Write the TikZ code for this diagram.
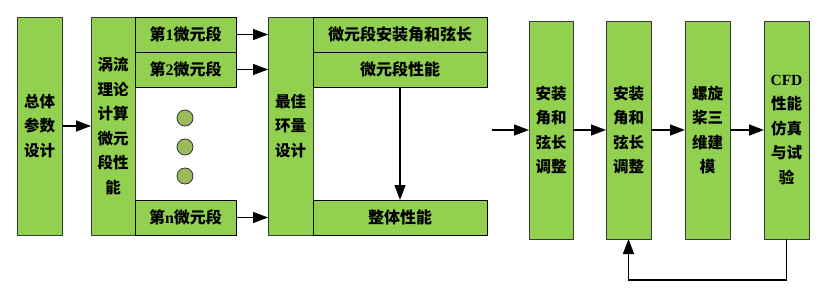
\documentclass[tikz,border=0pt]{standalone}
\usepackage{fontspec}
\setmainfont{Liberation Serif}
\newfontfamily\cjk{Noto Sans CJK SC}
\newfontfamily\lat{Liberation Serif}
\usetikzlibrary{arrows.meta}
\definecolor{boxgreen}{HTML}{92D050}
\definecolor{dotgreen}{HTML}{9BBB59}
\definecolor{edgegray}{HTML}{3A3A3A}
\begin{document}
\begin{tikzpicture}[x=1pt,y=-1pt,
  box/.style={draw=edgegray,line width=0.9pt,fill=boxgreen,inner sep=0pt,outer sep=0pt,align=center,
    font=\cjk\bfseries\fontsize{15.5}{24.5}\selectfont},
  sub/.style={draw=black,line width=0.9pt,fill=boxgreen,inner sep=0pt,outer sep=0pt,align=center,
    font=\cjk\bfseries\fontsize{16}{18}\selectfont},
  dot/.style={circle,draw=black!80,line width=0.8pt,fill=dotgreen,minimum size=16pt,inner sep=0pt},
  arr/.style={line width=1.4pt,-{Triangle[length=15pt,width=11pt]}},
  ln/.style={line width=1.4pt}]
\useasboundingbox (0,0) rectangle (819,294);
\node[box,minimum width=45pt,minimum height=218pt] (b1) at (39.5,126) {总体\\参数\\设计};
\node[box,minimum width=44pt,minimum height=218pt] (b2) at (113,126) {涡流\\理论\\计算\\微元\\段性\\能};
\node[sub,minimum width=101pt,minimum height=35pt] (s1) at (185.5,34.5) {第{\lat\bfseries 1}微元段};
\node[sub,minimum width=101pt,minimum height=35pt] (s2) at (185.5,69.5) {第{\lat\bfseries 2}微元段};
\node[sub,minimum width=101pt,minimum height=35pt] (sn) at (185.5,217.5) {第{\lat\bfseries n}微元段};
\node[dot] (d1) at (185,118) {};
\node[dot] (d2) at (185,147) {};
\node[dot] (d3) at (185,176) {};
\node[box,minimum width=45pt,minimum height=218pt] (b3) at (290.5,126) {最佳\\环量\\设计};
\node[sub,minimum width=174pt,minimum height=35pt] (t1) at (400,34.5) {微元段安装角和弦长};
\node[sub,minimum width=174pt,minimum height=35pt] (t2) at (400,69.5) {微元段性能};
\node[sub,minimum width=174pt,minimum height=35pt] (t3) at (400,217.5) {整体性能};
\node[box,minimum width=44pt,minimum height=218pt] (b4) at (551,130) {安装\\角和\\弦长\\调整};
\node[box,minimum width=45pt,minimum height=218pt] (b5) at (628.5,130) {安装\\角和\\弦长\\调整};
\node[box,minimum width=45pt,minimum height=218pt] (b6) at (707.5,130) {螺旋\\桨三\\维建\\模};
\node[box,minimum width=45pt,minimum height=218pt] (b7) at (786.5,130) {{\lat\bfseries CFD}\\性能\\仿真\\与试\\验};
\coordinate (in4) at (492,130);
\draw[arr] (b1.east) -- (b2.west);
\draw[arr] (s1.east) -- (s1.east -| b3.west);
\draw[arr] (s2.east) -- (s2.east -| b3.west);
\draw[arr] (sn.east) -- (sn.east -| b3.west);
\draw[arr] (t2.south) -- (t3.north);
\draw[arr] (in4) -- (b4.west);
\draw[arr] (b4.east) -- (b5.west);
\draw[arr] (b5.east) -- (b6.west);
\draw[arr] (b6.east) -- (b7.west);
\draw[arr] (b7.south) -- ++(0,41) -| (b5.south);
\end{tikzpicture}
\end{document}
